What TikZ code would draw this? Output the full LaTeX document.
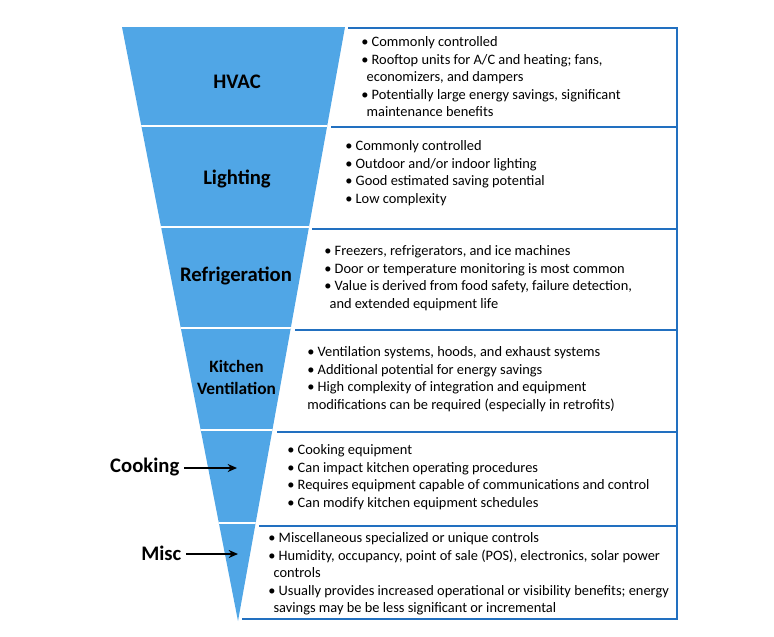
\documentclass[tikz,border=0pt]{standalone}
\usepackage{fontspec}
\setmainfont{Carlito}
\usetikzlibrary{arrows.meta}
\definecolor{funnelblue}{RGB}{80,166,230}
\definecolor{boxblue}{RGB}{34,112,192}
\newcommand{\cont}{\hspace*{4pt}}

\tikzset{
  heading/.style={font=\bfseries\fontsize{15.5}{18}\selectfont, align=center},
  bullets/.style={anchor=north west, inner sep=0pt, align=left,
    font=\fontsize{10.8}{13.1}\selectfont},
  boxline/.style={boxblue, line width=1.6pt},
  sidearrow/.style={-{Stealth[length=7pt,width=6pt]}, line width=1.1pt},
}

\begin{document}
\begin{tikzpicture}[x=0.75pt,y=-0.75pt]
  \useasboundingbox (0,0) rectangle (774,636);
  % funnel
  \fill[funnelblue] (122,27) -- (345,27) -- (238,621) -- cycle;
  \begin{scope}
    \clip (122,27) -- (345,27) -- (238,621) -- cycle;
    \draw[white,line width=2.2pt] (100,126) -- (360,126);
    \draw[white,line width=2.2pt] (100,227) -- (360,227);
    \draw[white,line width=2.2pt] (100,328) -- (360,328);
    \draw[white,line width=2.2pt] (100,430) -- (360,430);
    \draw[white,line width=2.2pt] (100,523) -- (360,523);
  \end{scope}
  % boxes
  \draw[boxline] (348,28) -- (677,28) -- (677,619) -- (242,619);
  \draw[boxline] (331,127) -- (677,127);
  \draw[boxline] (312,229) -- (677,229);
  \draw[boxline] (295,330) -- (677,330);
  \draw[boxline] (277,432) -- (677,432);
  \draw[boxline] (259,526) -- (677,526);
  % headings
  \node[heading] (hvac) at (237,81.5) {HVAC};
  \node[heading] (lighting) at (237,178.5) {Lighting};
  \node[heading] (refrig) at (236,275.5) {Refrigeration};
  \node[heading,font=\bfseries\fontsize{13}{15.8}\selectfont] (kitvent) at (236.5,377.5) {Kitchen\\Ventilation};
  \node[heading,anchor=east] (cooking) at (184,466.5) {Cooking};
  \node[heading,anchor=east] (misc) at (186,553.5) {Misc};
  \coordinate (cookingtip) at (237,468);
  \coordinate (misctip) at (238,554);
  \draw[sidearrow] (cooking.east |- cookingtip) -- (cookingtip);
  \draw[sidearrow] (misc.east |- misctip) -- (misctip);
  % bullet texts
  \node[bullets] (hvactxt) at (361,36.5) {%
    \textbullet\ Commonly controlled\\
    \textbullet\ Rooftop units for A/C and heating; fans,\\
    \cont economizers, and dampers\\
    \textbullet\ Potentially large energy savings, significant\\
    \cont maintenance benefits};
  \node[bullets] (lightingtxt) at (345,140.5) {%
    \textbullet\ Commonly controlled\\
    \textbullet\ Outdoor and/or indoor lighting\\
    \textbullet\ Good estimated saving potential\\
    \textbullet\ Low complexity};
  \node[bullets] (refrigtxt) at (324,245.5) {%
    \textbullet\ Freezers, refrigerators, and ice machines\\
    \textbullet\ Door or temperature monitoring is most common\\
    \textbullet\ Value is derived from food safety, failure detection,\\
    \cont and extended equipment life};
  \node[bullets] (kitventtxt) at (307,346.5) {%
    \textbullet\ Ventilation systems, hoods, and exhaust systems\\
    \textbullet\ Additional potential for energy savings\\
    \textbullet\ High complexity of integration and equipment\\
    modifications can be required (especially in retrofits)};
  \node[bullets] (cookingtxt) at (287,444.5) {%
    \textbullet\ Cooking equipment\\
    \textbullet\ Can impact kitchen operating procedures\\
    \textbullet\ Requires equipment capable of communications and control\\
    \textbullet\ Can modify kitchen equipment schedules};
  \node[bullets] (misctxt) at (268,532.5) {%
    \textbullet\ Miscellaneous specialized or unique controls\\
    \textbullet\ Humidity, occupancy, point of sale (POS), electronics, solar power\\
    \cont controls\\
    \textbullet\ Usually provides increased operational or visibility benefits; energy\\
    \cont savings may be be less significant or incremental};
\end{tikzpicture}
\end{document}
